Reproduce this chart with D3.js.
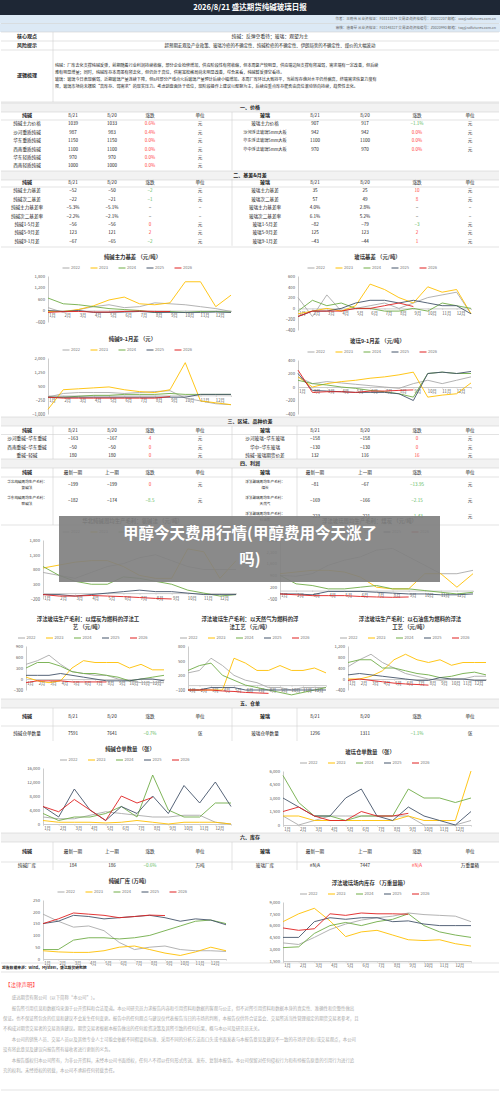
<!DOCTYPE html>
<html><head><meta charset="utf-8">
<script src="https://cdn.jsdelivr.net/npm/d3@7"></script>
<style>body{margin:0;background:#fff}svg{display:block;font-family:"Noto Sans CJK SC","Noto Sans",sans-serif}</style>
</head><body><svg id="c" width="500" height="1099"></svg>
<script>
const years = ["2022","2023","2024","2025","2026"];
const yearColors = ["#aaaaaa","#ffc000","#70ad47","#44546a","#e02020"];
const months = ["1月","2月","3月","4月","5月","6月","7月","8月","9月","10月","11月","12月"];

// 价格
const priceSoda = [["纯碱主力价格","1039","1033","0.6%","元"],["沙河重质纯碱","987","983","0.4%","元"],["华东重质纯碱","1150","1150","0.0%","元"],["西南重质纯碱","1100","1100","0.0%","元"],["华东轻质纯碱","970","970","0.0%","元"],["西南轻质纯碱","1000","1000","0.0%","元"]];
const priceGlass = [["玻璃主力价格","907","917","−1.1%","元"],["沙河浮法玻璃5mm大板","942","942","0.0%","元"],["华东浮法玻璃5mm大板","1100","1100","0.0%","元"],["华中浮法玻璃5mm大板","970","970","0.0%","元"]];
const basisSoda = [["纯碱主力基差","−52","−50","−2","元"],["纯碱次二基差","−22","−21","−1","元"],["纯碱主力基差率","−5.3%","−5.1%","−","−"],["纯碱次二基差率","−2.2%","−2.1%","−","−"],["纯碱1-5月差","−56","−56","0","元"],["纯碱5-9月差","123","121","2","元"],["纯碱9-1月差","−67","−65","−2","元"]];
const basisGlass = [["玻璃主力基差","35","25","10","元"],["玻璃次二基差","57","49","8","元"],["玻璃主力基差率","4.0%","2.8%","−","−"],["玻璃次二基差率","6.1%","5.2%","−","−"],["玻璃1-5月差","−82","−79","−3","元"],["玻璃5-9月差","125","123","2","元"],["玻璃9-1月差","−43","−44","1","元"]];
const spreadSoda = [["沙河重碱−华东重碱","−163","−167","4","元"],["西南重碱−华东重碱","−50","−50","0","元"],["重碱−轻碱","180","180","0","元"]];
const spreadGlass = [["沙河玻璃−华东玻璃","−158","−158","0","元"],["华中−华东玻璃","−130","−130","0","元"],["纯碱−玻璃期货价差","132","116","16","元"]];
const profitSoda = [["华北纯碱周均生产毛利：氨碱法","−199","−199","0","元"],["华东纯碱周均生产毛利：联碱法","−182","−174","−8.5","元"]];
const profitGlass = [["浮法玻璃周均生产毛利：煤炭","−81","−67","−13.95","元"],["浮法玻璃周均生产毛利：天然气","−169","−166","−2.15","元"],["浮法玻璃周均生产毛利：石油焦","−223","−221","−1.43","元"]];
const receiptSoda = [["纯碱仓单数量","7591","7641","−0.7%","张"]];
const receiptGlass = [["玻璃仓单数量","1296","1311","−1.1%","张"]];
const stockSoda = [["纯碱厂库","184","186","−0.6%","万吨"]];
const stockGlass = [["玻璃厂库","#N/A","7447","#N/A","万重量箱"]];

// 季节性曲线 (每年约13个点, 1月初→12月底)
const sodaBasis = [[150,-100,50,200,300,150,200,400,350,300,200,100,-50],[-50,-50,50,250,550,700,350,300,400,1500,1500,200,800],[650,350,300,200,100,50,0,-100,-50,-100,-50,-50,-80],[0,-50,0,-100,-100,-80,-50,-100,-100,-100,-100,-80,-100],[-100,-60,-50,-80,-80,-50,-30,-50,-52]];
const glassBasis = [[200,-150,250,-50,0,50,100,0,100,200,250,300,-100],[-100,-50,0,-50,50,450,350,200,100,400,300,350,-100],[-50,150,50,100,0,0,-50,-50,0,-50,100,50,0],[-150,-50,-50,0,100,150,150,100,150,100,50,50,-100],[-150,-50,-50,-50,0,0,50,100,35]];
const soda91 = [[-100,100,150,150,150,100,150,200,250,-150,-300,-450,-500],[-750,300,350,400,450,300,200,150,300,1750,-300,-400,-500],[-100,-100,-50,0,0,50,50,50,100,50,50,50,50],[-100,-100,-100,-100,-100,-100,-100,-100,-100,-100,50,50,50],[-100,-150,-150,-150,-150,-150,-150,-150,-67]];
const glass91 = [[150,50,80,60,40,20,0,-20,50,100,50,100,150],[150,0,50,80,100,130,150,180,220,-150,-120,-100,60],[100,50,30,0,-20,-50,-70,-100,-150,200,220,200,200],[200,-50,-60,-70,-80,-80,-80,-100,-200,200,220,200,230],[250,-80,-70,-70,-80,-60,-60,-50,-43]];
const sodaProfitA = [[700,600,500,700,900,1000,1200,1300,1100,900,800,800,800],[850,950,1050,1100,1100,900,600,500,500,1500,1400,500,1100],[900,600,400,300,300,550,500,400,300,100,0,-100,-50],[-50,-50,-100,-50,0,50,100,50,50,0,-50,-50,-50],[-50,-100,-100,-80,-100,-120,-150,-180,-199]];
const glassProfitA = [[900,850,1000,1500,1800,2000,2400,2500,2000,1500,1000,1000,1200],[1000,1100,1200,1200,1100,800,200,100,100,1000,1000,200,1000],[900,400,300,100,100,200,300,100,100,0,-100,-200,-100],[-200,-200,-250,-50,-50,-50,-100,-150,-200,-200,-250,-250,-200],[-200,-250,-300,-300,-300,-350,-380,-400,-380]];
const glassCoal = [[400,500,650,400,200,150,100,100,0,-50,-100,-100,-100],[50,-50,-100,-50,300,500,450,450,450,300,400,250,250],[300,450,450,350,200,150,150,100,50,-50,0,50,100],[100,100,100,150,100,50,0,-50,-50,-50,0,0,-50],[-100,-50,-50,-50,-80,-80,-80,-81]];
const glassGas = [[250,300,550,400,200,100,50,-50,-50,-100,-50,-50,-50],[-100,-100,-100,-100,550,450,300,300,400,300,300,350,250],[300,400,450,200,100,0,-50,-100,-150,-200,-150,-100,-50],[-100,-100,-50,-50,-50,-100,-100,-100,-100,-100,-100,-100,-100],[-100,-100,-100,-120,-130,-150,-160,-169]];
const glassPet = [[450,700,900,600,400,200,100,0,-50,0,0,100,100],[0,0,100,300,700,900,700,600,700,500,600,600,600],[600,700,700,400,400,300,200,150,50,100,200,250,150],[150,200,150,100,50,0,-50,-50,50,0,0,-50,-50],[-50,0,-50,-100,-150,-180,-200,-223]];
const sodaReceipt = [[2000,1500,1500,2500,3500,3000,2500,2000,2000,2500,2500,500,0],[1000,500,500,500,300,500,1000,500,0,500,500,500,0],[3000,1000,2000,2000,3000,5000,2000,14000,4000,2000,2000,6000,6000],[5000,2000,10000,4000,1000,5000,3000,8000,3000,11000,6000,12000,5000],[5000,3500,7000,4000,1000,8000,6000,7591]];
const glassReceipt = [[1000,0,500,1000,1000,1000,1000,1000,1000,0,0,0,500],[1000,1000,500,500,500,500,500,500,1000,500,500,500,6000],[5500,2500,1000,1000,500,1000,1000,1000,4000,3000,3000,2500,3000],[3000,2000,1000,1000,3000,4000,1000,500,2000,1000,500,0,1500],[1500,2000,1000,500,500,1500,1000,1000,1296]];
const sodaStock = [[190,160,135,140,120,70,40,50,55,40,35,35,32],[35,30,28,28,35,50,55,40,25,15,30,50,35],[40,40,80,90,90,85,90,100,120,140,160,165,150],[150,160,185,180,170,175,180,185,175,160,170,165,145],[150,170,195,190,185,175,180,186,184]];
const glassStock = [[3800,3600,4500,5500,6200,6700,7000,7200,7600,7400,7300,7200,6500],[6500,7500,8200,6600,4600,5200,5400,4800,4200,4100,4200,3700,3400],[3200,3300,5000,6000,6400,6000,6500,6800,7500,6000,5200,4800,4500],[4500,4500,6500,7000,6800,7000,7000,6500,6600,6200,6000,6000,6000],[5700,5400,5600,7500,7300,7600,7500,7500,7447]];

const svg = d3.select("#c");
const F = "Noto Sans CJK SC";
const red = "#ff4040", green = "#5cb85c", grid = "#d0d0d0";

function text(x, y, s, o = {}) {
  return svg.append("text").attr("x", x).attr("y", y).text(s)
    .attr("font-size", o.size || 4.6).attr("text-anchor", o.anchor || "middle")
    .attr("dominant-baseline", "middle").attr("fill", o.fill || "#222")
    .attr("font-weight", o.bold ? "bold" : null).attr("font-family", F);
}
function rect(x, y, w, h, fill, stroke) {
  svg.append("rect").attr("x", x).attr("y", y).attr("width", w).attr("height", h)
    .attr("fill", fill).attr("stroke", stroke || "none").attr("stroke-width", 0.5);
}
function hline(y) { svg.append("line").attr("x1", 1).attr("x2", 499).attr("y1", y).attr("y2", y).attr("stroke", grid).attr("stroke-width", 0.6); }
function vline(x, y0, y1) { svg.append("line").attr("x1", x).attr("x2", x).attr("y1", y0).attr("y2", y1).attr("stroke", grid).attr("stroke-width", 0.6); }

function chgColor(s) {
  if (s === "−" || s === "元") return "#222";
  if (s.includes("N/A")) return red;
  return s.startsWith("−") ? green : red;
}
function section(y, label) {
  rect(1, y, 498, 9, "#f2f2f2"); hline(y); hline(y + 9);
  text(250, y + 4.8, label, { bold: true, size: 5 });
}
const colL = [27, 73, 112, 150, 200], colR = [265, 315, 365, 417, 470];
function table(y, rh, head, left, right, opts = {}) {
  const hh = opts.headH || rh;
  text(colL[0], y + hh / 2, head[0], { bold: true, size: 5 });
  head.slice(1, 5).forEach((h, i) => text(colL[i + 1], y + hh / 2, h));
  text(colR[0], y + hh / 2, head[5], { bold: true, size: 5 });
  head.slice(1, 5).forEach((h, i) => text(colR[i + 1], y + hh / 2, h));
  hline(y + hh);
  const n = Math.max(left.length, right.length);
  for (let r = 0; r < n; r++) {
    const cy = y + hh + r * rh + rh / 2;
    [[left, colL], [right, colR]].forEach(([rows, cols]) => {
      const row = rows[r]; if (!row) return;
      row.forEach((v, i) => {
        if (i === 0 && opts.wrap && v.length > 10) {
          text(cols[0], cy - 2.6, v.slice(0, 11), { size: 3.6 });
          text(cols[0], cy + 2.6, v.slice(11), { size: 3.6 });
        } else text(cols[i], cy, v, { size: i === 0 ? Math.min(4.6, 46 / v.length) : 4.6, fill: i === 3 ? chgColor(v) : "#222" });
      });
    });
  }
  vline(232, y, y + hh + n * rh);
  if (opts.grid) { vline(53, y, y + hh + n * rh); vline(297, y, y + hh + n * rh); }
  return y + hh + n * rh;
}

function chart(x, y, w, h, title, ticks, series) {
  const lines = Array.isArray(title) ? title : [title];
  lines.forEach((t, i) => text(x + w / 2, y + i * 8, t, { size: 5.4, bold: true, fill: "#333" }));
  const ly = y + lines.length * 8 + 2;
  const lx = x + w / 2 - 70;
  years.forEach((yr, i) => {
    svg.append("line").attr("x1", lx + i * 28).attr("x2", lx + i * 28 + 7).attr("y1", ly).attr("y2", ly).attr("stroke", yearColors[i]).attr("stroke-width", 1);
    text(lx + i * 28 + 8.5, ly, yr, { size: 4, anchor: "start", fill: "#777" });
  });
  const top = ly + 8, bottom = y + h - 8, left = x + 18, right = x + w - 4;
  const ys = d3.scaleLinear().domain(d3.extent(ticks)).range([bottom, top]);
  const xs = d3.scaleLinear().domain([0, 12]).range([left, right]);
  const g = svg.append("g");
  g.append("g").attr("transform", `translate(${left},0)`)
    .call(d3.axisLeft(ys).tickValues(ticks).tickSize(0).tickPadding(3))
    .call(a => { a.select(".domain").attr("stroke", "#ccc"); a.selectAll("text").attr("font-size", 4.2).attr("fill", "#555").attr("font-family", F); });
  const zy = ys.domain()[0] < 0 ? ys(0) : bottom;
  g.append("g").attr("transform", `translate(0,${zy})`)
    .call(d3.axisBottom(xs).tickValues(d3.range(12)).tickFormat(i => months[i]).tickSize(1.5).tickPadding(2))
    .call(a => { a.select(".domain").attr("stroke", "#ccc"); a.selectAll("line").attr("stroke", "#ccc"); a.selectAll("text").attr("font-size", 4.2).attr("fill", "#555").attr("font-family", F).attr("dx", 4); });
  const line = d3.line().x((d, i) => xs(i)).y(d => ys(d));
  series.forEach((s, i) => g.append("path").datum(s).attr("d", line).attr("fill", "none").attr("stroke", yearColors[i]).attr("stroke-width", 0.9));
}

// 标题栏
rect(0, 0, 500, 15, "#1e2735");
text(250, 8, "2026/8/21    盛达期货纯碱玻璃日报", { size: 7.5, bold: true, fill: "#fff" });
rect(0, 15, 500, 8.5, "#dce9f5"); rect(0, 23.5, 500, 8.5, "#dce9f5");
hline(23.5);
text(496, 19.5, "作者：王晓伟  从业资格证：F03113374  交易咨询资格编号：Z0022207  邮箱：xxx@sdfutures.com.cn", { size: 3.6, anchor: "end", fill: "#666" });
text(496, 28, "审核：唐青琴  从业资格证：F03148327  交易咨询资格编号：Z0020990  邮箱：txq@sdfutures.com.cn", { size: 3.6, anchor: "end", fill: "#666" });
hline(32); hline(41); hline(50); hline(102);
vline(53, 32, 102);
text(27, 36.5, "核心观点", { size: 5, bold: true }); text(27, 45.5, "风险提示", { size: 5, bold: true }); text(27, 76, "逻辑梳理", { size: 5, bold: true });
text(270, 36.5, "纯碱：反弹空看待；玻璃：观望为主", { size: 4.8 });
text(270, 45.5, "超预期宏观及产业政策、玻璃冷修的不确定性、纯碱检修的不确定性、伊朗局势的不确定性、煤价的大幅波动", { size: 4.4 });
const logic = ["纯碱：厂库去化支撑纯碱反弹，前期随着行业利润持续收缩，部分企业检修增加，供应阶段性有所收缩，但本周复产较明显，供应端边际支撑有所减弱，需求端有一定改善，但后续",
  "难有明显增量；同时，纯碱库存本周虽有所去化，但仍处于高位，供需宽松格局尚未明显改善，综合来看，纯碱暂反弹空看待。",
  "玻璃：玻璃今日表现偏弱，近期玻璃产量连续下降，但8月部分产线点火后玻璃产量预计后续小幅增加。本周厂库环比大致持平，当前库存绝对水平仍然偏高，终端需求恢复力度有",
  "限，玻璃市场尚未摆脱“高库存、弱需求”的现实压力。考虑到盘面处于低位，现阶段操作上建议以观察为主，后续应重点库存能否由高位滚动转向持续，趋势性去化。"];
logic.forEach((l, i) => text(55, 66 + i * 7, l, { size: 4.1, anchor: "start" }));

section(103, "一、价格");
table(112, 8.4, ["纯碱", "8/21", "8/20", "涨跌", "单位", "玻璃"], priceSoda, priceGlass, { headH: 8 });
section(171, "二、基差&月差");
table(179, 8.4, ["纯碱", "8/21", "8/20", "涨跌", "单位", "玻璃"], basisSoda, basisGlass, { headH: 8 });
hline(247);

chart(30, 258, 205, 72, "纯碱主力基差  （元/吨）", [-600, 0, 600, 1200, 1800], sodaBasis);
chart(280, 258, 195, 80, "玻璃基差   （元/吨）", [-400, -200, 0, 200, 400, 600], glassBasis);
chart(30, 340, 205, 82, "纯碱9-1月差   （元）", [-1000, -250, 500, 1250, 2000], soda91);
chart(280, 342, 195, 80, "玻璃9-1月差   （元/吨）", [-400, -200, 0, 200, 400], glass91);

section(417, "三、区域、品种价差");
table(426, 8.6, ["纯碱", "8/21", "8/20", "涨跌", "单位", "玻璃"], spreadSoda, spreadGlass, { headH: 8.5, grid: true });
section(459, "四、利润");
table(468, 16, ["纯碱", "最新一期", "上一期", "涨跌", "单位", "玻璃"], profitSoda, profitGlass, { headH: 9, wrap: true, grid: true });
hline(525);

chart(25, 522, 215, 85, "华北纯碱周均生产毛利：氨碱法 （元/吨）", [-200, 300, 800, 1300, 1800], sodaProfitA);
chart(262, 522, 215, 85, "浮法玻璃周均生产毛利：煤炭 （元/吨）", [-500, 200, 900, 1600, 2300, 3000], glassProfitA);
chart(8, 620, 160, 78, ["浮法玻璃生产毛利：以煤炭为燃料的浮法工", "艺  （元/吨）"], [-300, 0, 300, 600, 900], glassCoal);
chart(170, 620, 160, 78, ["浮法玻璃生产毛利：以天然气为燃料的浮", "法工艺  （元/吨）"], [-100, 200, 500, 800], glassGas);
chart(330, 620, 160, 78, ["浮法玻璃生产毛利：以石油焦为燃料的浮法", "工艺  （元/吨）"], [-400, 0, 400, 800, 1200], glassPet);

section(699, "五、仓单");
table(708, 15, ["纯碱", "8/21", "8/20", "涨跌", "单位", "玻璃"], receiptSoda, receiptGlass, { headH: 18, grid: true });
chart(25, 750, 210, 82, "纯碱仓单数量   （张）", [0, 4000, 8000, 12000, 16000], sodaReceipt);
chart(265, 753, 210, 80, "玻璃仓单数量   （张）", [0, 1500, 3000, 4500, 6000], glassReceipt);

section(833, "六、库存");
table(842, 8, ["纯碱", "最新一期", "上一期", "涨跌", "单位", "玻璃"], stockSoda, stockGlass, { headH: 20, grid: true });
chart(25, 882, 205, 85, "纯碱厂库   (万吨)", [0, 50, 100, 150, 200, 250], sodaStock);
chart(265, 884, 210, 85, "浮法玻璃场内库存   （万重量箱）", [1500, 3000, 4500, 6000, 7500, 9000], glassStock);
hline(963);
text(2, 968, "报告数据来源：Wind，Mysteel，盛达期货研究院", { size: 3.8, anchor: "start", bold: true });
hline(972);
text(5, 985, "【法律声明】", { size: 5.5, anchor: "start", fill: red });
const legal = ["　　盛达期货有限公司（以下简称“本公司”）。",
  "　　报告所引用信息和数据均来源于公开资料和合法渠道。本公司研究员力求报告内容和引用资料和数据的客观与公正，但不对所引用资料和数据本身的真实性、准确性和完整性做出",
  "保证。也不保证所包含的信息和建议不会发生任何变更。报告中的任何观点与建议仅代表报告当日的市场的判断，本报告仅供符合证监会、交易所适当性管理规定的期货交易者参考，且",
  "不构成对期货交易者的交易咨询建议。期货交易者根据本报告做出的任何投资决策及其所引致的任何后果，概与本公司及研究员无关。",
  "　　本公司的销售人员、交易人员以及其他专业人士可能会依据不同假设和标准、采用不同的分析方法而口头或书面发表与本报告意见及建议不一致的市场评论和/或交易观点，本公司",
  "没有将此意见及建议向报告所有接收者进行更新的义务。",
  "　　本报告版权归本公司所有，为非公开资料，未经本公司书面授权，任何人不得以任何形式传送、发布、复制本报告。本公司保留对任何侵权行为和有悖报告原意的引用行为进行追",
  "究的权利。未经授权的转载，本公司不承担任何转载责任。"];
legal.forEach((l, i) => text(3, 998 + i * 10.4, l, { size: 4.4, anchor: "start", fill: "#aaa" }));
hline(1090);

// 覆盖横幅
svg.append("rect").attr("x", 59).attr("y", 516).attr("width", 381).attr("height", 66).attr("fill", "#808080").attr("opacity", 0.92);
text(250, 535, "甲醇今天费用行情(甲醇费用今天涨了", { size: 15.5, bold: true, fill: "#fff" });
text(250, 561, "吗)", { size: 15.5, bold: true, fill: "#fff" });
</script></body></html>
